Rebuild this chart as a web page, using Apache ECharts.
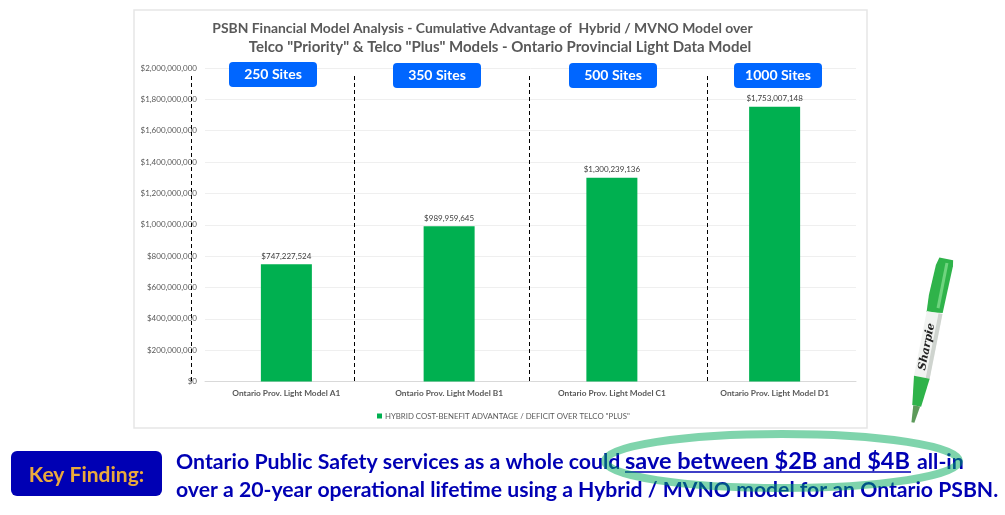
<!DOCTYPE html>
<html>
<head>
<meta charset="utf-8">
<style>
  html, body { margin: 0; padding: 0; background: #fff; }
  #chart { width: 1005px; height: 515px; }
</style>
<script src="https://cdn.jsdelivr.net/npm/echarts@6/dist/echarts.min.js"></script>
</head>
<body>
<div id="chart"></div>
<script>
const categories = [
  "Ontario Prov. Light Model A1",
  "Ontario Prov. Light Model B1",
  "Ontario Prov. Light Model C1",
  "Ontario Prov. Light Model D1",
];
const advantage = [747227524, 989959645, 1300239136, 1753007148];
const seriesName = 'HYBRID COST-BENEFIT ADVANTAGE / DEFICIT OVER TELCO "PLUS"';
const titleLines = [
  "PSBN Financial Model Analysis - Cumulative Advantage of  Hybrid / MVNO Model over",
  'Telco "Priority" & Telco "Plus" Models - Ontario Provincial Light Data Model',
];
const siteLabels = ["250 Sites", "350 Sites", "500 Sites", "1000 Sites"];
const badgeLeft = [229, 393, 569, 734];
const badgeTop = [62, 63, 63, 63];
const dividerX = [191.5, 354.5, 529.5, 707.5];

const COLORS = {
  bar: "#00b050",
  text: "#595959",
  grid: "#efefef",
  badge: "#0066ff",
  finding: "#0000b4",
  amber: "#eaa93c",
  circle: "rgba(0, 170, 90, 0.5)",
};
const FONT = "Lato, 'Open Sans', sans-serif";

function money(value) {
  return "$" + Math.round(value).toLocaleString("en-US");
}

function label(x, y, text, fontSize, color, extra = {}) {
  return {
    type: "text",
    x,
    y,
    z: 10,
    style: { text, fontSize, fontFamily: FONT, fontWeight: "bold", fill: color, textVerticalAlign: "middle", ...extra },
  };
}

function dividers() {
  return dividerX.map((x) => ({
    type: "line",
    z: 5,
    shape: { x1: x, y1: 76, x2: x, y2: 383 },
    style: { stroke: "#000", lineWidth: 1, lineDash: [4, 3] },
  }));
}

function badges() {
  return siteLabels.flatMap((text, i) => [
    {
      type: "rect",
      z: 6,
      shape: { x: badgeLeft[i], y: badgeTop[i], width: 88, height: 25, r: 4 },
      style: { fill: COLORS.badge },
    },
    label(badgeLeft[i] + 44, badgeTop[i] + 12.5, text, 14, "#fff", { textAlign: "center" }),
  ]);
}

function marker() {
  return {
    type: "group",
    x: 929,
    y: 341,
    rotation: -0.195,
    z: 12,
    children: [
      { type: "polygon", shape: { points: [[-6, -84], [8, -84], [9, -78], [8, -30], [-8, -28], [-9, -45], [-8, -76]] }, style: { fill: "#2fb34a" } },
      { type: "rect", shape: { x: 1, y: -80, width: 3, height: 46 }, style: { fill: "#6fd47f" } },
      { type: "rect", shape: { x: -8, y: -29, width: 16, height: 66 }, style: { fill: "#f1f3f1" } },
      { type: "rect", shape: { x: 4, y: -29, width: 4, height: 66 }, style: { fill: "#cfd4cf" } },
      { type: "polygon", shape: { points: [[-8, 37], [8, 37], [5, 66], [-4, 66]] }, style: { fill: "#2fb34a" } },
      { type: "polygon", shape: { points: [[-3, 66], [4, 66], [1.5, 83], [-1.5, 83]] }, style: { fill: "#5d9a5a" } },
      {
        type: "text",
        x: -1,
        y: 6,
        rotation: Math.PI / 2,
        style: { text: "Sharpie", fontSize: 11, fontFamily: "'DejaVu Serif', serif", fontStyle: "italic", fontWeight: "bold", fill: "#222", textAlign: "center", textVerticalAlign: "middle" },
      },
    ],
  };
}

function findingText() {
  return [
    {
      type: "rect",
      z: 6,
      shape: { x: 11, y: 451, width: 151, height: 45, r: 6 },
      style: { fill: COLORS.finding },
    },
    label(86.5, 475, "Key Finding:", 21, COLORS.amber, { textAlign: "center" }),
    label(176, 462, "Ontario Public Safety services as a whole could", 21.3, COLORS.finding),
    label(625, 461, "save between $2B and $4B", 23.5, COLORS.finding),
    {
      type: "line",
      z: 10,
      shape: { x1: 625, y1: 472, x2: 911, y2: 472 },
      style: { stroke: COLORS.finding, lineWidth: 1.5 },
    },
    label(917, 462, "all-in", 21.3, COLORS.finding),
    label(176, 490, "over a 20-year operational lifetime using a Hybrid / MVNO model for an Ontario PSBN.", 21.2, COLORS.finding),
    {
      type: "ellipse",
      z: 11,
      shape: { cx: 782, cy: 461, rx: 177, ry: 27 },
      style: { fill: "none", stroke: COLORS.circle, lineWidth: 8 },
    },
  ];
}

const chart = echarts.init(document.getElementById("chart"), null, { renderer: "canvas" });
chart.setOption({
  animation: false,
  backgroundColor: "#fff",
  textStyle: { fontFamily: FONT },
  title: [
    {
      text: titleLines[0],
      left: 482.5,
      top: 22,
      textAlign: "center",
      padding: 0,
      textStyle: { fontFamily: FONT, fontSize: 13.9, fontWeight: "bold", color: COLORS.text },
    },
    {
      text: titleLines[1],
      left: 500,
      top: 40,
      textAlign: "center",
      padding: 0,
      textStyle: { fontFamily: FONT, fontSize: 15, fontWeight: "bold", color: COLORS.text },
    },
  ],
  grid: { left: 205, right: 149, top: 68, bottom: 133.5, containLabel: false },
  legend: {
    left: 372,
    top: 407,
    itemWidth: 5,
    itemHeight: 5,
    itemGap: 3,
    icon: "rect",
    textStyle: { fontSize: 7.8, color: COLORS.text, fontFamily: FONT, padding: [0, 0, 0, -2] },
  },
  xAxis: {
    type: "category",
    data: categories,
    axisTick: { show: false },
    axisLine: { lineStyle: { color: "#d9d9d9" } },
    axisLabel: { fontSize: 8.3, fontWeight: "bold", color: COLORS.text, margin: 8 },
  },
  yAxis: {
    type: "value",
    min: 0,
    max: 2000000000,
    interval: 200000000,
    axisLine: { show: false },
    axisTick: { show: false },
    splitLine: { lineStyle: { color: COLORS.grid } },
    axisLabel: { fontSize: 8, color: COLORS.text, margin: 8, formatter: money },
  },
  series: [
    {
      name: seriesName,
      type: "bar",
      data: advantage,
      barWidth: 51,
      itemStyle: { color: COLORS.bar },
      label: { show: true, position: "top", distance: 4, fontSize: 8, color: "#404040", formatter: (p) => money(p.value) },
    },
  ],
  graphic: [
    {
      type: "rect",
      z: -1,
      shape: { x: 134, y: 10, width: 733, height: 418 },
      style: { fill: "none", stroke: "#e6e6e6", lineWidth: 1.5 },
    },
    ...dividers(),
    ...badges(),
    ...findingText(),
    marker(),
  ],
});
</script>
</body>
</html>
